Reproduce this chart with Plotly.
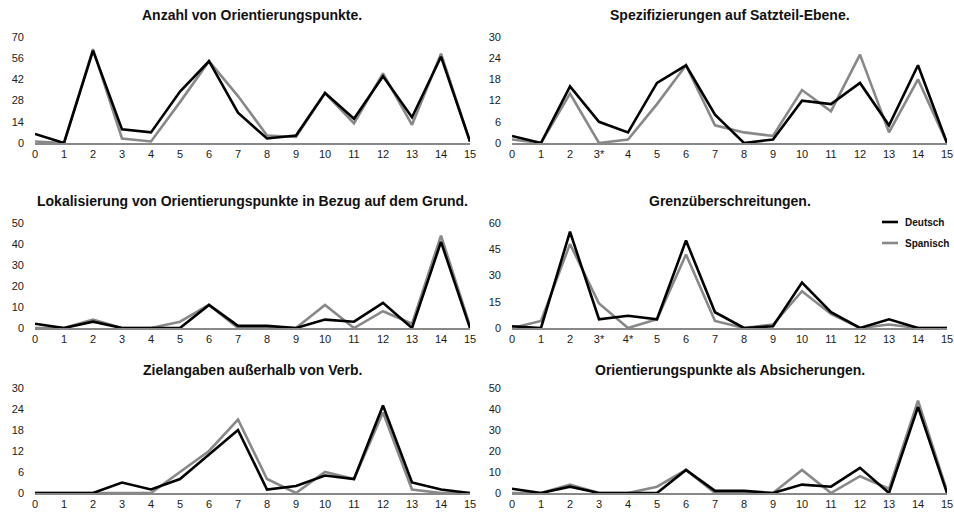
import plotly.graph_objects as go

# Category labels on the x axis (positions 0..15)
x_pos = list(range(16))
labels_plain = [str(i) for i in range(16)]
labels_3star = ["0", "1", "2", "3*"] + [str(i) for i in range(4, 16)]
labels_34star = ["0", "1", "2", "3*", "4*"] + [str(i) for i in range(5, 16)]

# Panel titles
titles = [
    "Anzahl von Orientierungspunkte.",
    "Spezifizierungen auf Satzteil-Ebene.",
    "Lokalisierung von Orientierungspunkte in Bezug auf dem Grund.",
    "Grenzüberschreitungen.",
    "Zielangaben außerhalb von Verb.",
    "Orientierungspunkte als Absicherungen.",
]

# Series names
series_names = ["Deutsch", "Spanisch"]

# Series values: Deutsch (black) and Spanisch (gray)
anzahl_de = [6, 0, 61, 9, 7, 34, 54, 20, 3, 5, 33, 16, 44, 17, 57, 1]
anzahl_es = [1, 0, 62, 3, 1, 27, 54, 31, 5, 4, 33, 13, 46, 12, 59, 1]

spez_de = [2, 0, 16, 6, 3, 17, 22, 8, 0, 1, 12, 11, 17, 5, 22, 0]
spez_es = [1, 0, 14, 0, 1, 11, 22, 5, 3, 2, 15, 9, 25, 3, 18, 0]

lokal_de = [2, 0, 3, 0, 0, 0, 11, 1, 1, 0, 4, 3, 12, 0, 41, 0]
lokal_es = [0, 0, 4, 0, 0, 3, 11, 0, 0, 0, 11, 0, 8, 2, 44, 1]

grenz_de = [1, 0, 55, 5, 7, 5, 50, 9, 0, 1, 26, 9, 0, 5, 0, 0]
grenz_es = [0, 4, 48, 14, 0, 5, 42, 4, 0, 2, 21, 8, 0, 2, 0, 0]

ziel_de = [0, 0, 0, 3, 1, 4, 11, 18, 1, 2, 5, 4, 25, 3, 1, 0]
ziel_es = [0, 0, 0, 0, 0, 6, 12, 21, 4, 0, 6, 4, 23, 1, 0, 0]

absich_de = [2, 0, 3, 0, 0, 0, 11, 1, 1, 0, 4, 3, 12, 0, 41, 0]
absich_es = [0, 0, 4, 0, 0, 3, 11, 0, 0, 0, 11, 0, 8, 2, 44, 1]

# y-axis tick values per panel
yticks = [
    [0, 14, 28, 42, 56, 70],
    [0, 6, 12, 18, 24, 30],
    [0, 10, 20, 30, 40, 50],
    [0, 15, 30, 45, 60],
    [0, 6, 12, 18, 24, 30],
    [0, 10, 20, 30, 40, 50],
]

panels = [
    (anzahl_de, anzahl_es, labels_plain),
    (spez_de, spez_es, labels_3star),
    (lokal_de, lokal_es, labels_plain),
    (grenz_de, grenz_es, labels_34star),
    (ziel_de, ziel_es, labels_plain),
    (absich_de, absich_es, labels_plain),
]

W, H = 954, 515
col_px = [(35, 470), (512, 947)]
row_px = [(37, 143), (223, 328), (388, 493)]
title_px = [15, 201, 370]

FONT = "Liberation Sans, Arial, Helvetica, sans-serif"
BLACK = "#000000"
GRAY = "#888888"

fig = go.Figure()
annotations = []
shapes = []

for i, (de, es, xlab) in enumerate(panels):
    r, c = divmod(i, 2)
    n = i + 1
    xa = "x" if n == 1 else f"x{n}"
    ya = "y" if n == 1 else f"y{n}"
    x0, x1 = col_px[c]
    ytop, ybot = row_px[r]

    # gray series underneath, black on top
    fig.add_trace(go.Scatter(
        x=x_pos, y=es, mode="lines", name=series_names[1],
        line=dict(color=GRAY, width=2.6), xaxis=xa, yaxis=ya,
        showlegend=False, hoverinfo="skip",
    ))
    fig.add_trace(go.Scatter(
        x=x_pos, y=de, mode="lines", name=series_names[0],
        line=dict(color=BLACK, width=2.6), xaxis=xa, yaxis=ya,
        showlegend=False, hoverinfo="skip",
    ))

    xkey = "xaxis" if n == 1 else f"xaxis{n}"
    ykey = "yaxis" if n == 1 else f"yaxis{n}"
    fig.layout[xkey] = dict(
        domain=[x0 / W, x1 / W], anchor=ya, range=[0, 15],
        tickmode="array", tickvals=x_pos, ticktext=xlab,
        showgrid=False, zeroline=False, showline=True,
        linecolor=GRAY, linewidth=2, ticks="", automargin=False,
        tickfont=dict(family=FONT, size=11, color="#1a1a1a"),
    )
    fig.layout[ykey] = dict(
        domain=[1 - ybot / H, 1 - ytop / H], anchor=xa,
        range=[0, yticks[i][-1]], tickmode="array", tickvals=yticks[i],
        showgrid=False, zeroline=False, showline=False, ticks="",
        ticklabelstandoff=10, automargin=False,
        tickfont=dict(family=FONT, size=11, color="#1a1a1a"),
    )

    annotations.append(dict(
        text=f"<b>{titles[i]}</b>", xref="paper", yref="paper",
        x=(x0 + x1) / 2 / W, y=1 - title_px[r] / H,
        xanchor="center", yanchor="middle", showarrow=False,
        font=dict(family=FONT, size=14, color="#111"),
    ))

# Legend key beside the "Grenzüberschreitungen" panel
for name, color, ypx in [(series_names[0], BLACK, 222), (series_names[1], GRAY, 243)]:
    shapes.append(dict(
        type="line", xref="paper", yref="paper",
        x0=882 / W, x1=898 / W, y0=1 - ypx / H, y1=1 - ypx / H,
        line=dict(color=color, width=2.6),
    ))
    annotations.append(dict(
        text=f"<b>{name}</b>", xref="paper", yref="paper",
        x=903 / W, y=1 - ypx / H, xanchor="left", yanchor="middle",
        showarrow=False, font=dict(family=FONT, size=10, color="#111"),
    ))

fig.update_layout(
    width=W, height=H,
    margin=dict(l=0, r=0, t=0, b=0, autoexpand=False),
    paper_bgcolor="white", plot_bgcolor="white",
    annotations=annotations, shapes=shapes,
    showlegend=False,
)

fig.write_html("out.html")
